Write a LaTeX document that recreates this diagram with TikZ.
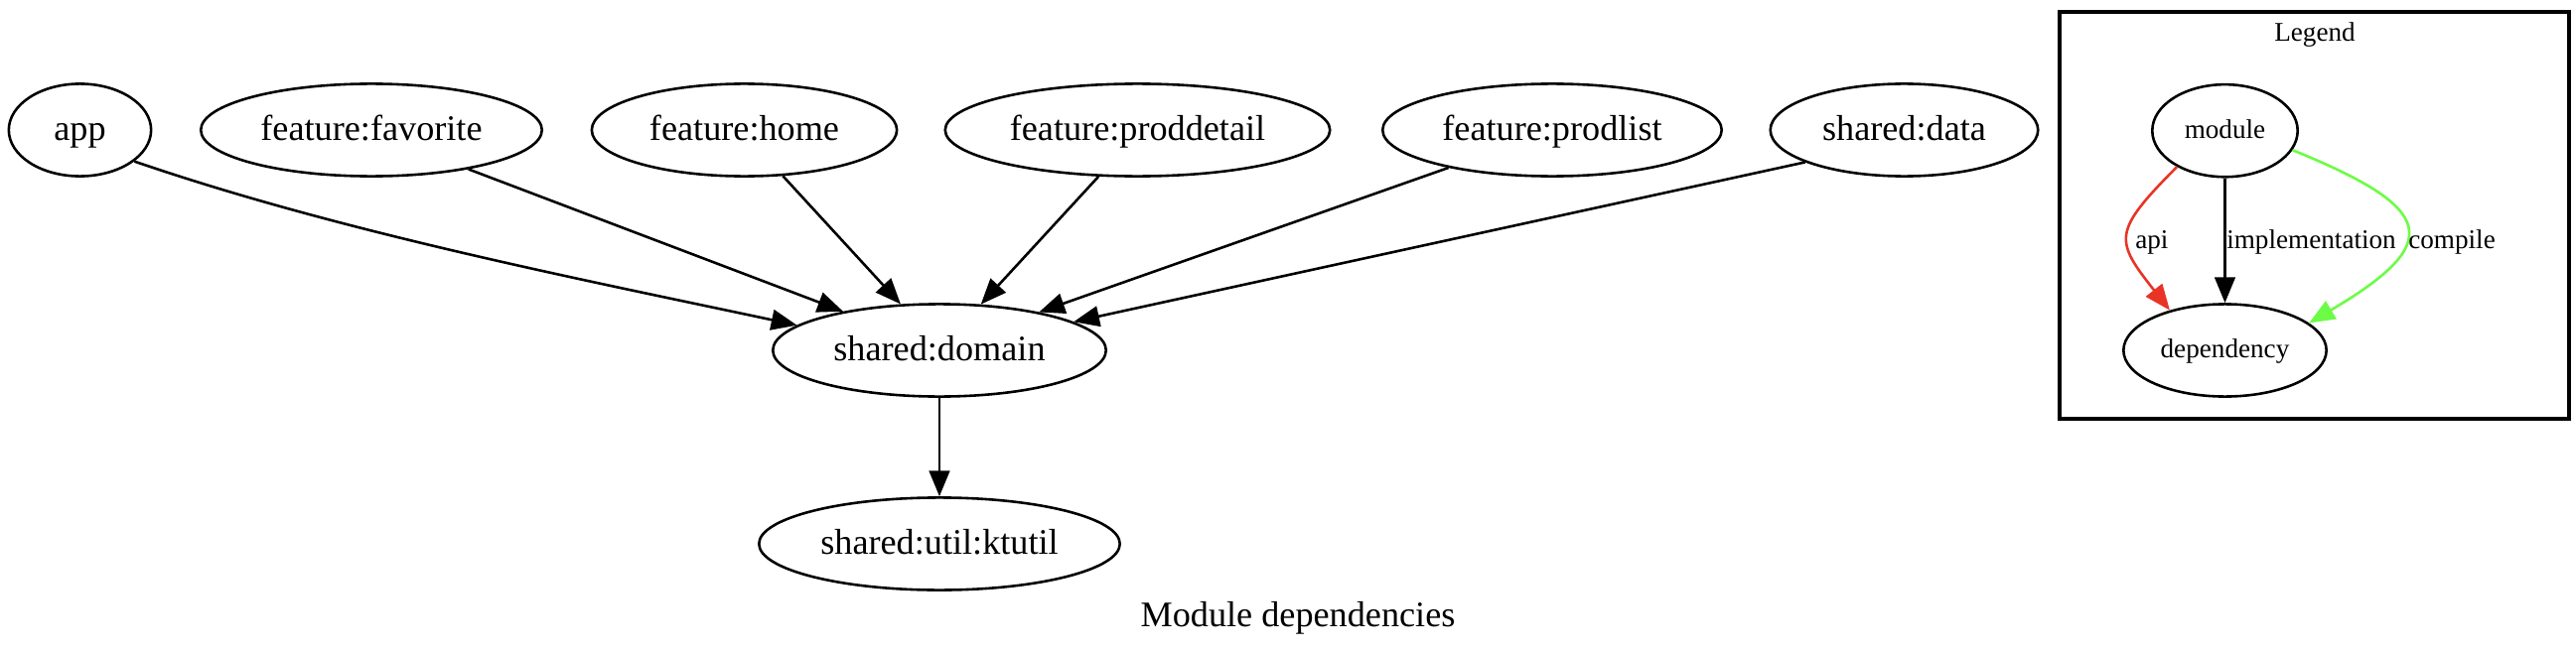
\documentclass[tikz,border=0pt]{standalone}
\usepackage{fontspec}
\setmainfont{Liberation Serif}
\usetikzlibrary{arrows.meta}
\usetikzlibrary{shapes.geometric}

\definecolor{apired}{RGB}{232,52,38}
\definecolor{compilegreen}{RGB}{108,252,70}

\begin{document}
\begin{tikzpicture}[x=0.3866pt, y=-0.3866pt, line width=1pt,
        mod/.style={draw, ellipse, inner sep=0pt, minimum height=36pt,
            text height=9.8pt, text depth=2pt, font=\fontsize{14}{16}\selectfont},
        legmod/.style={draw, ellipse, inner sep=0pt, minimum height=36pt,
            text height=7.35pt, text depth=1.5pt, font=\fontsize{10.5}{12}\selectfont},
        dep/.style={-{Triangle[length=10pt,width=8pt]}},
        lab/.style={anchor=west, inner sep=0pt, text height=7.35pt, text depth=1.5pt,
            font=\fontsize{10.5}{12}\selectfont}]
        \useasboundingbox (0,0) rectangle (2594,658);
        % modules
        \node[mod, minimum width=55.4pt]  (app)        at (80.5,131)   {app};
        \node[mod, minimum width=132.8pt] (favorite)   at (374,131)    {feature:favorite};
        \node[mod, minimum width=118.8pt] (home)       at (749.5,131)  {feature:home};
        \node[mod, minimum width=149.8pt] (proddetail) at (1145.5,131) {feature:proddetail};
        \node[mod, minimum width=132pt]   (prodlist)   at (1563,131)   {feature:prodlist};
        \node[mod, minimum width=104.2pt] (data)       at (1917.5,131) {shared:data};
        \node[mod, minimum width=129.7pt] (domain)     at (946,353)    {shared:domain};
        \node[mod, minimum width=140.5pt] (ktutil)     at (946,548)    {shared:util:ktutil};
        % dependencies
        \draw[dep] (app.-30) .. controls (345,234.5) and (588,282) .. (domain.170);
        \draw[dep] (favorite.-22)    -- (domain.158);
        \draw[dep] (home.-50)        -- (domain.130);
        \draw[dep] (proddetail.230)  -- (domain.48);
        \draw[dep] (prodlist.200)    -- (domain.21);
        \draw[dep] (data.198)        -- (domain.12);
        \draw[dep] (domain.south)    -- (ktutil.north);
        \node[font=\fontsize{14}{16}\selectfont] (title) at (1307,623) {Module dependencies};
        % legend
        \draw[line width=1.2pt] (2074,12) rectangle (2587,422);
        \node[font=\fontsize{10.5}{12}\selectfont] (legtitle) at (2331,35) {Legend};
        \node[legmod, minimum width=56.6pt] (module)     at (2240.5,131.7) {module};
        \node[legmod, minimum width=79pt]   (dependency) at (2240.5,353)   {dependency};
        \draw[dep, apired] (module.217) .. controls (2126.5,234) and (2129.5,242) .. (dependency.144);
        \draw[dep] (module.south) -- (dependency.north);
        \draw[dep, compilegreen] (module.-16) .. controls (2453.7,210.3) and (2462.2,244.4) .. (dependency.18);
        \node[lab] (lapi)  at (2149,243) {api};
        \node[lab] (limpl) at (2241,243) {implementation};
        \node[lab] (lcomp) at (2424,243) {compile};
    \end{tikzpicture}
\end{document}
